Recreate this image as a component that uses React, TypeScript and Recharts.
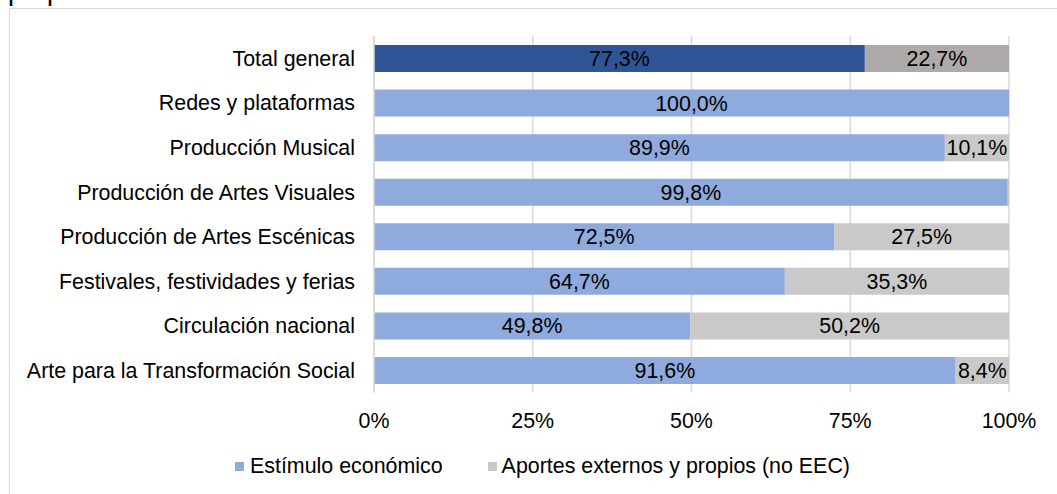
import React from 'react';
import { BarChart, Bar, XAxis, YAxis, CartesianGrid, Cell, LabelList, Legend } from 'recharts';

const categories = [
  'Total general',
  'Redes y plataformas',
  'Producción Musical',
  'Producción de Artes Visuales',
  'Producción de Artes Escénicas',
  'Festivales, festividades y ferias',
  'Circulación nacional',
  'Arte para la Transformación Social',
];
const estimulo = [77.3, 100.0, 89.9, 99.8, 72.5, 64.7, 49.8, 91.6];
const aportes = [22.7, 0.0, 10.1, 0.2, 27.5, 35.3, 50.2, 8.4];
const xTicks = [0, 25, 50, 75, 100];
const seriesNames = ['Estímulo económico', 'Aportes externos y propios (no EEC)'];

const data = categories.map((name, i) => ({ name, estimulo: estimulo[i], aportes: aportes[i] }));

const BLUE_DARK = '#2F5597';
const BLUE_LIGHT = '#8FAADC';
const GRAY_DARK = '#AEAAAA';
const GRAY_LIGHT = '#C9C9C9';
const FONT = '"Liberation Sans", Arial, sans-serif';
const FS = 21.4;

const fmt = (v: any) => {
  const n = Number(v);
  if (!isFinite(n) || n < 1) return '';
  return n.toFixed(1).replace('.', ',') + '%';
};

const LegendContent = () => (
  <div style={{ display: 'flex', alignItems: 'center', height: 24, paddingLeft: 235, fontSize: FS, color: '#000', fontFamily: FONT }}>
    <span style={{ width: 9, height: 9, background: BLUE_LIGHT, display: 'inline-block', marginRight: 6 }} />
    <span style={{ marginRight: 45 }}>{seriesNames[0]}</span>
    <span style={{ width: 9, height: 9, background: GRAY_LIGHT, display: 'inline-block', marginRight: 5 }} />
    <span>{seriesNames[1]}</span>
  </div>
);

export default function App() {
  return (
    <div style={{ position: 'absolute', left: 0, top: 0, width: 1057, height: 494, fontFamily: FONT, background: '#fff', overflow: 'hidden' }}>
      <svg width={1057} height={494} style={{ position: 'absolute', left: 0, top: 0 }}>
        <text x={8} y={0} fontSize={27} fill="#000" fontFamily={FONT}>propios</text>
        <line x1={9.5} y1={8.5} x2={1057} y2={8.5} stroke="#D9D9D9" strokeWidth={1} />
        <line x1={9.5} y1={8.5} x2={9.5} y2={494} stroke="#D9D9D9" strokeWidth={1} />
      </svg>
      <div style={{ position: 'absolute', left: 0, top: 0 }}>
        <BarChart
          layout="vertical"
          width={1057}
          height={494}
          data={data}
          margin={{ top: 36, right: 48, left: 0, bottom: 71.5 }}
        >
          <CartesianGrid horizontal={false} vertical={true} stroke="#D9D9D9" strokeWidth={1.5} />
          <XAxis
            type="number"
            domain={[0, 100]}
            ticks={xTicks}
            tickFormatter={(v: number) => v + '%'}
            axisLine={false}
            tickLine={false}
            tickSize={0}
            tickMargin={20}
            height={30}
            tick={{ fontSize: FS, fill: '#000' }}
            interval={0}
          />
          <YAxis
            type="category"
            dataKey="name"
            width={374}
            axisLine={{ stroke: '#D9D9D9', strokeWidth: 1.5 }}
            tickLine={false}
            tickSize={0}
            tickMargin={19}
            interval={0}
            tick={{ fontSize: FS, fill: '#000' }}
          />
          <Legend
            layout="horizontal"
            verticalAlign="middle"
            align="center"
            wrapperStyle={{ top: 454, left: 0, width: 1057 }}
            content={() => <LegendContent />}
          />
          <Bar dataKey="estimulo" name={seriesNames[0]} stackId="a" barSize={27} isAnimationActive={false}>
            {data.map((d, i) => (
              <Cell key={'e' + i} fill={i === 0 ? BLUE_DARK : BLUE_LIGHT} />
            ))}
            <LabelList dataKey="estimulo" position="center" formatter={fmt} fill="#000" fontSize={FS} />
          </Bar>
          <Bar dataKey="aportes" name={seriesNames[1]} stackId="a" barSize={27} isAnimationActive={false}>
            {data.map((d, i) => (
              <Cell key={'a' + i} fill={i === 0 ? GRAY_DARK : GRAY_LIGHT} />
            ))}
            <LabelList dataKey="aportes" position="center" formatter={fmt} fill="#000" fontSize={FS} />
          </Bar>
        </BarChart>
      </div>
    </div>
  );
}
